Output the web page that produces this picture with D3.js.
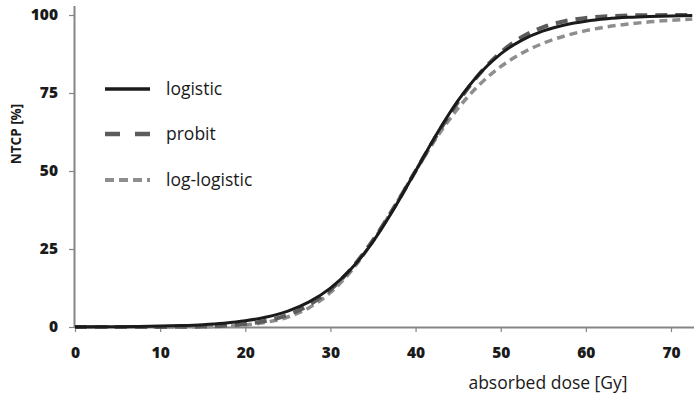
<!DOCTYPE html>
<html>
<head>
<meta charset="utf-8">
<script src="https://cdn.jsdelivr.net/npm/d3@7"></script>
<style>
  html, body { margin: 0; padding: 0; background: #fff; }
  svg { display: block; }
</style>
</head>
<body>
<svg id="chart" width="694" height="397"></svg>
<script>
// Absorbed dose samples [Gy]
const doses = [0, 2.5, 5, 7.5, 10, 12.5, 15, 17.5, 20, 22.5, 25, 27.5, 30, 32.5, 35, 37.5,
               40, 42.5, 45, 47.5, 50, 52.5, 55, 57.5, 60, 62.5, 65, 67.5, 70, 72.5];
// NTCP [%]
const logistic = [0.04, 0.07, 0.11, 0.18, 0.29, 0.47, 0.76, 1.23, 1.98, 3.19, 5.09, 8.04, 12.45, 18.81, 27.39, 38.05,
                  50, 61.95, 72.61, 81.19, 87.55, 91.96, 94.91, 96.81, 98.02, 98.77, 99.24, 99.53, 99.71, 99.82];
const probit = [0, 0, 0, 0.01, 0.02, 0.06, 0.16, 0.41, 0.93, 1.98, 3.88, 7.07, 11.98, 18.89, 27.83, 38.44,
                50, 61.56, 72.17, 81.11, 88.02, 92.93, 96.12, 98.02, 99.07, 99.59, 99.84, 99.94, 99.98, 99.99];
const logLogistic = [0, 0, 0, 0, 0, 0.02, 0.08, 0.25, 0.65, 1.52, 3.21, 6.20, 11.05, 18.16, 27.53, 38.51,
                     50, 60.82, 70.14, 77.66, 83.45, 87.78, 90.96, 93.28, 94.98, 96.22, 97.12, 97.80, 98.30, 98.68];

const xTicks = [0, 10, 20, 30, 40, 50, 60, 70];
const yTicks = [0, 25, 50, 75, 100];
const seriesNames = ["logistic", "probit", "log-logistic"];

const svg = d3.select("#chart");
const x0 = 75, xEnd = 694, yBottom = 327, yTop = 15;
const x = d3.scaleLinear().domain([0, 70]).range([x0, 671]);
const y = d3.scaleLinear().domain([0, 100]).range([yBottom, yTop]);

const axisColor = "#858585";
const font = "'Open Sans', 'DejaVu Sans', sans-serif";

// X axis
const xAxis = svg.append("g").attr("transform", `translate(0,${yBottom})`)
  .call(d3.axisBottom(x).tickValues(xTicks).tickSize(5).tickSizeOuter(0).tickPadding(15));
xAxis.select(".domain").attr("d", `M${x0},0.5H${xEnd}`).attr("stroke", axisColor).attr("stroke-width", 2);
xAxis.selectAll(".tick line").attr("stroke", axisColor).attr("stroke-width", 1.2);
xAxis.selectAll(".tick text").attr("fill", "#1a1a1a").style("font-family", font)
  .style("font-weight", 800).style("font-size", "15.5px");

// Y axis
const yAxis = svg.append("g").attr("transform", `translate(${x0},0)`)
  .call(d3.axisLeft(y).tickValues(yTicks).tickSize(6).tickSizeOuter(0).tickPadding(11));
yAxis.select(".domain").attr("d", `M-0.5,${yBottom}V6`).attr("stroke", axisColor).attr("stroke-width", 2);
yAxis.selectAll(".tick line").attr("stroke", axisColor).attr("stroke-width", 1.2);
yAxis.selectAll(".tick text").attr("fill", "#1a1a1a").style("font-family", font)
  .style("font-weight", 800).style("font-size", "15.5px");

// Axis titles
svg.append("text").attr("x", 548).attr("y", 389).attr("text-anchor", "middle")
  .style("font-family", font).style("font-weight", 500).style("font-size", "17.5px").attr("fill", "#1a1a1a")
  .text("absorbed dose [Gy]");
svg.append("text").attr("transform", "translate(21,134) rotate(-90)").attr("text-anchor", "middle")
  .style("font-family", font).style("font-weight", "bold").style("font-size", "13.5px").attr("fill", "#1a1a1a")
  .text("NTCP [%]");

// Curves
const styles = [
  { name: seriesNames[0], values: logistic, color: "#1c1a1a", width: 3, dash: null },
  { name: seriesNames[1], values: probit, color: "#5c5c5c", width: 4, dash: "12,8" },
  { name: seriesNames[2], values: logLogistic, color: "#8e8e8e", width: 3.5, dash: "8,5" }
];
const line = d3.line().x(d => x(d[0])).y(d => y(d[1])).curve(d3.curveMonotoneX);
svg.append("clipPath").attr("id", "clip").append("rect")
  .attr("x", x0).attr("y", 0).attr("width", xEnd - x0).attr("height", yBottom + 4);

[styles[2], styles[1], styles[0]].forEach(s => {
  const pts = doses.map((d, i) => [d, s.values[i]]);
  svg.append("path").datum(pts).attr("d", line)
    .attr("fill", "none").attr("stroke", s.color).attr("stroke-width", s.width)
    .attr("stroke-dasharray", s.dash).attr("clip-path", "url(#clip)");
});

// Legend
const legendY = [89, 134, 180];
styles.forEach((s, i) => {
  const g = svg.append("g").attr("transform", `translate(0,${legendY[i]})`);
  g.append("line").attr("x1", 105).attr("x2", 150).attr("y1", 0).attr("y2", 0)
    .attr("stroke", s.color).attr("stroke-width", s.width + 0.5)
    .attr("stroke-dasharray", i === 1 ? "15,15" : (i === 2 ? "9,5" : null));
  g.append("text").attr("x", 166).attr("y", 6).style("font-family", font).style("font-weight", 500)
    .style("font-size", "17.5px").attr("fill", "#1a1a1a").text(s.name);
});
</script>
</body>
</html>
